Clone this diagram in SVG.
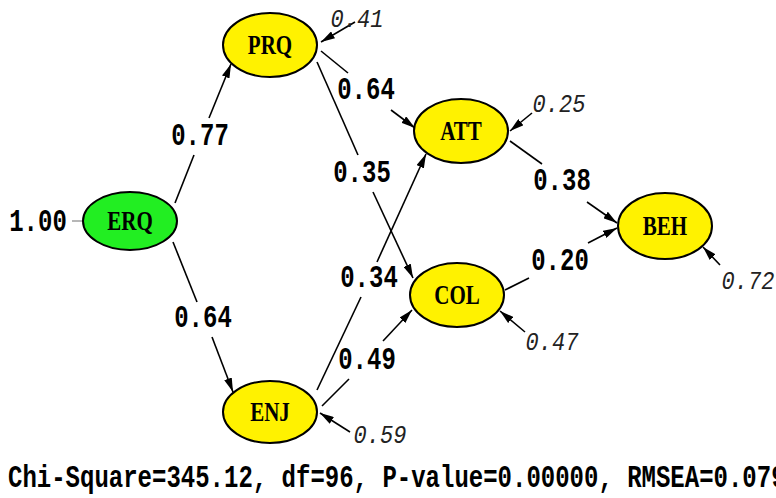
<svg xmlns="http://www.w3.org/2000/svg" width="776" height="498" viewBox="0 0 776 498">
  <defs>
    <marker id="head" viewBox="0 0 14 8" refX="14" refY="4" markerWidth="14" markerHeight="8" markerUnits="userSpaceOnUse" orient="auto">
      <path d="M0,0 L14,4 L0,8 Z" fill="#000"/>
    </marker>
    <style>
      .node ellipse { stroke: #000; stroke-width: 2; }
      .latent { fill: #fff200; }
      .exo { fill: #22ee22; }
      .name { font-family: "Liberation Serif", "Times New Roman", serif; font-weight: bold; font-size: 21px; text-anchor: middle; fill: #000; }
      .edge { stroke: #000; stroke-width: 1.6; fill: none; }
      .arrow { marker-end: url(#head); }
      .coef { font-family: "Liberation Mono", "Courier New", monospace; font-weight: bold; font-size: 24px; text-anchor: middle; fill: #000; }
      .err { font-family: "Liberation Mono", "Courier New", monospace; font-style: italic; font-size: 22px; text-anchor: middle; fill: #222; }
      .fit { font-family: "Liberation Mono", "Courier New", monospace; font-weight: bold; font-size: 24px; fill: #000; }
    </style>
  </defs>
  <rect width="776" height="498" fill="#fff"/>

  <!-- paths between constructs, broken around their coefficients -->
  <g id="connectors">
    <!-- ERQ -> PRQ -->
    <line class="edge" x1="175" y1="203" x2="194" y2="155"/>
    <line class="edge arrow" x1="209" y1="118" x2="231" y2="64"/>
    <!-- ERQ -> ENJ -->
    <line class="edge" x1="173" y1="242" x2="197" y2="302"/>
    <line class="edge arrow" x1="212" y1="337" x2="233" y2="392"/>
    <!-- PRQ -> ATT -->
    <line class="edge" x1="321" y1="51" x2="348" y2="73"/>
    <line class="edge arrow" x1="391" y1="110" x2="415" y2="128"/>
    <!-- PRQ -> COL -->
    <line class="edge" x1="317" y1="62" x2="358" y2="155"/>
    <line class="edge arrow" x1="373" y1="192" x2="413" y2="278"/>
    <!-- ENJ -> ATT -->
    <line class="edge" x1="317" y1="390" x2="361" y2="297"/>
    <line class="edge arrow" x1="377" y1="262" x2="426" y2="154"/>
    <!-- ENJ -> COL -->
    <line class="edge" x1="322" y1="406" x2="349" y2="379"/>
    <line class="edge arrow" x1="383" y1="341" x2="412" y2="310"/>
    <!-- ATT -> BEH -->
    <line class="edge" x1="510" y1="141" x2="542" y2="164"/>
    <line class="edge arrow" x1="587" y1="202" x2="617" y2="223"/>
    <!-- COL -> BEH -->
    <line class="edge" x1="505" y1="290" x2="529" y2="278"/>
    <line class="edge arrow" x1="588" y1="243" x2="617" y2="228"/>
    <!-- error terms -->
    <line class="edge arrow" x1="355" y1="22" x2="321" y2="42"/>
    <line class="edge arrow" x1="532" y1="113" x2="510" y2="131"/>
    <line class="edge arrow" x1="720" y1="265" x2="703" y2="247"/>
    <line class="edge arrow" x1="525" y1="332" x2="500" y2="311"/>
    <line class="edge arrow" x1="350" y1="432" x2="320" y2="413"/>
    <line x1="72" y1="221" x2="83" y2="221" stroke="#888" stroke-width="1.2"/>
  </g>

  <!-- path coefficients -->
  <g id="coefficients">
    <text class="coef" transform="translate(200,145) scale(1,1.3)">0.77</text>
    <text class="coef" transform="translate(366,99) scale(1,1.3)">0.64</text>
    <text class="coef" transform="translate(362,182) scale(1,1.3)">0.35</text>
    <text class="coef" transform="translate(369,287) scale(1,1.3)">0.34</text>
    <text class="coef" transform="translate(203,327) scale(1,1.3)">0.64</text>
    <text class="coef" transform="translate(367,369) scale(1,1.3)">0.49</text>
    <text class="coef" transform="translate(562,190) scale(1,1.3)">0.38</text>
    <text class="coef" transform="translate(560,270) scale(1,1.3)">0.20</text>
    <text class="coef" transform="translate(38,231) scale(1,1.3)">1.00</text>
  </g>

  <!-- error variances -->
  <g id="errors">
    <text class="err" transform="translate(357,27) scale(1,1.2)">0.41</text>
    <text class="err" transform="translate(559,112) scale(1,1.2)">0.25</text>
    <text class="err" transform="translate(748,289) scale(1,1.2)">0.72</text>
    <text class="err" transform="translate(552,350) scale(1,1.2)">0.47</text>
    <text class="err" transform="translate(380,443) scale(1,1.2)">0.59</text>
  </g>

  <g id="ERQ" class="node">
    <ellipse class="exo" cx="130" cy="221" rx="47" ry="29"/>
    <text class="name" transform="translate(130,230) scale(1,1.25)">ERQ</text>
  </g>
  <g id="PRQ" class="node">
    <ellipse class="latent" cx="270" cy="45" rx="47" ry="32"/>
    <text class="name" transform="translate(270,54) scale(1,1.25)">PRQ</text>
  </g>
  <g id="ATT" class="node">
    <ellipse class="latent" cx="461" cy="131" rx="47" ry="32"/>
    <text class="name" transform="translate(461,140) scale(1,1.25)">ATT</text>
  </g>
  <g id="COL" class="node">
    <ellipse class="latent" cx="457" cy="295" rx="47" ry="32"/>
    <text class="name" transform="translate(457,304) scale(1,1.25)">COL</text>
  </g>
  <g id="ENJ" class="node">
    <ellipse class="latent" cx="270" cy="412" rx="47" ry="31"/>
    <text class="name" transform="translate(270,421) scale(1,1.25)">ENJ</text>
  </g>
  <g id="BEH" class="node">
    <ellipse class="latent" cx="665" cy="226" rx="47" ry="33"/>
    <text class="name" transform="translate(665,235) scale(1,1.25)">BEH</text>
  </g>

  <g id="fit">
    <text class="fit" transform="translate(8,487) scale(1,1.3)">Chi-Square=345.12, df=96, P-value=0.00000, RMSEA=0.079</text>
  </g>
</svg>
